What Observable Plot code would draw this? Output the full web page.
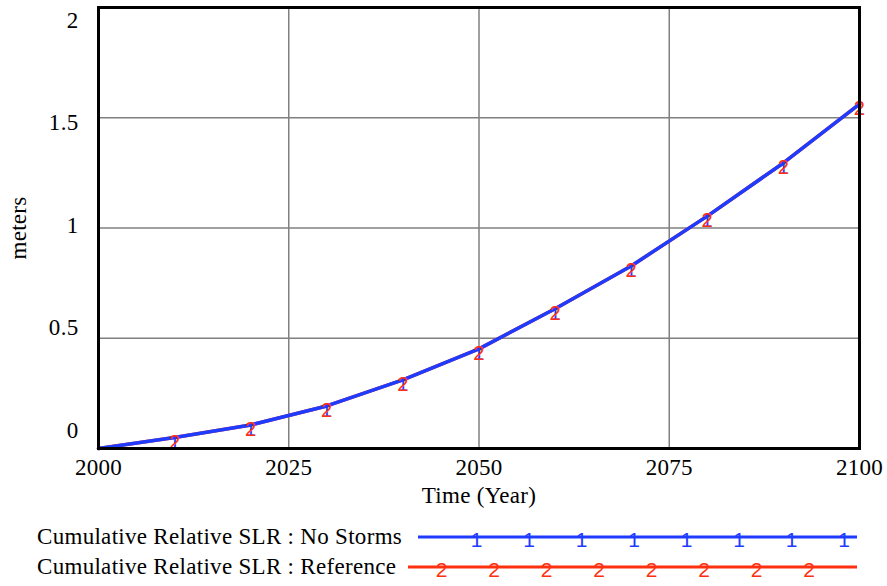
<!DOCTYPE html>
<html><head><meta charset="utf-8">
<script src="https://cdn.jsdelivr.net/npm/d3@7"></script>
<script src="https://cdn.jsdelivr.net/npm/@observablehq/plot@0.6"></script>
<style>body{margin:0;background:#fff;} svg{display:block;} #chart{width:887px;}</style>
</head><body><div id="chart"></div><script>
const years = [2000, 2010, 2020, 2030, 2040, 2050, 2060, 2070, 2080, 2090, 2100];
const noStorms = [0, 0.05, 0.107, 0.193, 0.311, 0.452, 0.634, 0.828, 1.054, 1.295, 1.562];
const reference = [0, 0.05, 0.107, 0.193, 0.311, 0.452, 0.634, 0.828, 1.054, 1.295, 1.562];
const xTicks = [2000, 2025, 2050, 2075, 2100];
const yTicks = [0, 0.5, 1, 1.5, 2];
const seriesNames = ["Cumulative Relative SLR : No Storms", "Cumulative Relative SLR : Reference"];
const seriesMarkers = ["1", "2"];
const colors = ["#1e3cff", "#ff3010"];

const data = years.map((year, i) => ({year, ns: noStorms[i], ref: reference[i]}));
const markerData = data.filter(d => d.year > 2000);

const gridStyle = {stroke: "#808080", strokeOpacity: 1, strokeWidth: 1.5};
const serif = "Liberation Serif";
const sans = "Liberation Sans";

const yAxes = yTicks.map(v => Plot.axisY({
  ticks: [v], tickSize: 0, tickPadding: 20, tickFormat: d => String(d),
  dy: -18 + 15.5 * v,
  label: v === 1 ? "meters" : null, labelAnchor: "center", labelArrow: "none", labelOffset: 89
}));

const plot = Plot.plot({
  width: 887, height: 515,
  marginLeft: 98, marginRight: 28, marginTop: 7, marginBottom: 67,
  style: {fontFamily: serif, fontSize: "23px", background: "#fff", color: "#000", letterSpacing: "0.3px"},
  x: {domain: [2000, 2100]},
  y: {domain: [0, 2]},
  marks: [
    Plot.gridX(xTicks, gridStyle),
    Plot.gridY(yTicks, gridStyle),
    Plot.line(data, {x: "year", y: "ref", stroke: colors[1], strokeWidth: 3.5}),
    Plot.line(data, {x: "year", y: "ns", stroke: colors[0], strokeWidth: 3.5}),
    Plot.text(markerData, {x: "year", y: "ns", text: () => seriesMarkers[0], fill: colors[0], fontFamily: sans, fontSize: 20, dy: 5}),
    Plot.text(markerData, {x: "year", y: "ref", text: () => seriesMarkers[1], fill: colors[1], fontFamily: sans, fontSize: 20, dy: 5}),
    Plot.frame({stroke: "#000", strokeWidth: 3}),
    Plot.axisX({ticks: xTicks, tickSize: 0, tickPadding: 10, tickFormat: d => String(d),
      label: "Time (Year)", labelAnchor: "center", labelArrow: "none", labelOffset: 54}),
    ...yAxes
  ]
});
document.getElementById("chart").appendChild(plot);

// legend
const leg = d3.select("#chart").append("svg").attr("width", 887).attr("height", 71)
  .style("font-family", serif).style("letter-spacing", "0.3px");
const rows = [
  {lineX0: 418, baseY: 29, lineY: 22, firstMarker: 476.7, markerY: 32},
  {lineX0: 408, baseY: 59, lineY: 52, firstMarker: 441.7, markerY: 62}
];
rows.forEach((r, i) => {
  leg.append("text").attr("x", 37).attr("y", r.baseY).attr("font-size", 23).attr("fill", "#000").text(seriesNames[i]);
  leg.append("line").attr("x1", r.lineX0).attr("x2", 857).attr("y1", r.lineY).attr("y2", r.lineY)
    .attr("stroke", colors[i]).attr("stroke-width", 3);
  d3.range(8).forEach(k => {
    leg.append("text").attr("x", r.firstMarker + 52.5 * k).attr("y", r.markerY)
      .attr("text-anchor", "middle").attr("font-family", sans).attr("font-size", 21)
      .attr("fill", colors[i]).text(seriesMarkers[i]);
  });
});
</script></body></html>
